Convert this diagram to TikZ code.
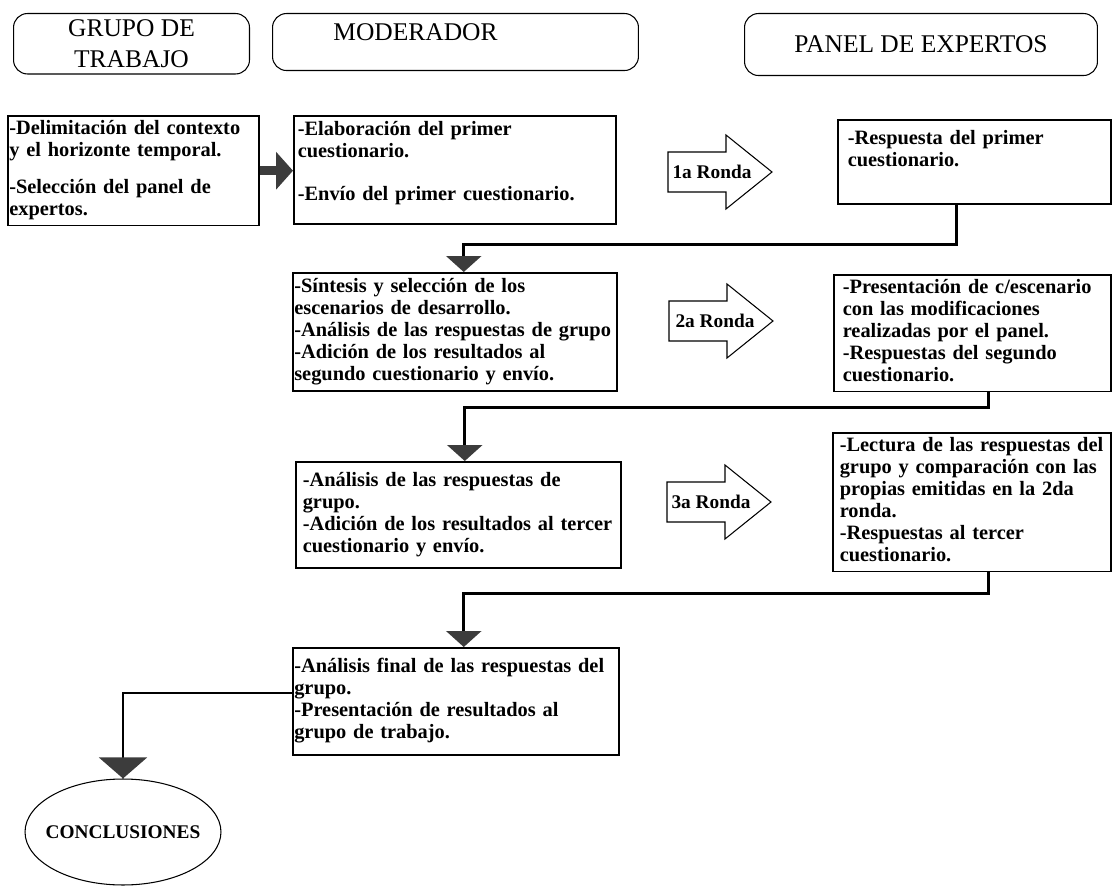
\documentclass[tikz,border=0pt]{standalone}
\usepackage{fontspec}
\setmainfont{Liberation Serif}
\usetikzlibrary{shapes.geometric, arrows.meta, positioning}

\definecolor{flecha}{HTML}{3C3C3C}

\tikzset{
  cabecera/.style={draw, rounded corners=0.28cm, line width=0.6pt, anchor=north west,
    align=center, font=\fontsize{14.5}{18}\selectfont},
  caja/.style={draw, line width=0.9pt, anchor=north west, align=left, inner ysep=2pt,
    font=\fontsize{11.6}{12.5}\selectfont\bfseries},
  ronda/.style={font=\fontsize{11}{13}\selectfont\bfseries, inner sep=0pt},
  bloque/.style={draw, line width=0.6pt, fill=white},
  conector/.style={line width=1.6pt, -{Triangle[width=0.7cm, length=0.32cm, color=flecha]}},
}

\begin{document}
\begin{tikzpicture}[x=0.02cm, y=-0.02cm]
    \useasboundingbox (0,0) rectangle (1112,888);

    % cabeceras
    \node (grupo) [cabecera, minimum width=4.72cm, minimum height=1.2cm] at (13,13) {GRUPO DE\\TRABAJO};
    \node (mod) [cabecera, minimum width=7.32cm, minimum height=1.14cm,
        label={[font=\fontsize{14.5}{17}\selectfont, xshift=-0.8cm, yshift=0.19cm]center:MODERADOR}] at (272,13) {};
    \node (panel) [cabecera, minimum width=7.06cm, minimum height=1.24cm] at (744,13) {PANEL DE EXPERTOS};

    % primera ronda
    \node (a) [caja, text width=4.96cm, inner xsep=0.03cm, minimum height=2.04cm] at (7,115)
        {\begin{tabular}{@{}l@{}}-Delimitación del contexto\\y el horizonte temporal.\\[0.3cm]-Selección del panel de\\expertos.\end{tabular}};
    \node (b) [caja, text width=6.28cm, inner xsep=0.08cm, minimum height=2.16cm] at (293,115)
        {\begin{tabular}{@{}l@{}}-Elaboración del primer\\cuestionario.\\[0.42cm]-Envío del primer cuestionario.\\[0.25cm]\end{tabular}};
    \node (c) [caja, text width=5.06cm, inner xsep=0.2cm, minimum height=1.68cm] at (837,119)
        {\begin{tabular}{@{}l@{}}-Respuesta del primer\\cuestionario.\\ \mbox{}\end{tabular}};

    % segunda ronda
    \node (d) [caja, text width=6.42cm, inner xsep=0.03cm, minimum height=2.36cm] at (292,272)
        {\begin{tabular}{@{}l@{}}-Síntesis y selección de los\\escenarios de desarrollo.\\-Análisis de las respuestas de grupo\\-Adición de los resultados al\\segundo cuestionario y envío.\end{tabular}};
    \node (e) [caja, text width=5.18cm, inner xsep=0.18cm, minimum height=2.32cm] at (833,274)
        {\begin{tabular}{@{}l@{}}-Presentación de c/escenario\\con las modificaciones\\realizadas por el panel.\\-Respuestas del segundo\\cuestionario.\end{tabular}};

    % tercera ronda
    \node (f) [caja, text width=6.22cm, inner xsep=0.14cm, minimum height=2.12cm] at (295,461)
        {\begin{tabular}{@{}l@{}}-Análisis de las respuestas de\\grupo.\\-Adición de los resultados al tercer\\cuestionario y envío.\end{tabular}};
    \node (g) [caja, text width=5.28cm, inner xsep=0.14cm, minimum height=2.72cm] at (832,432)
        {\begin{tabular}{@{}l@{}}-Lectura de las respuestas del\\grupo y comparación con las\\propias emitidas en la 2da\\ronda.\\-Respuestas al tercer\\cuestionario.\end{tabular}};

    % cierre
    \node (h) [caja, text width=6.46cm, inner xsep=0.03cm, minimum height=2.14cm] at (292,647)
        {\begin{tabular}{@{}l@{}}-Análisis final de las respuestas del\\grupo.\\-Presentación de resultados al\\grupo de trabajo.\end{tabular}};
    \node (fin) [draw, ellipse, line width=0.6pt, inner sep=0pt, minimum width=3.92cm, minimum height=2.12cm,
        font=\fontsize{11}{13}\selectfont\bfseries] at (123,832) {\makebox[0pt]{CONCLUSIONES}};

    % flechas de ronda
    \draw [bloque] (668,152) -- (726,152) -- (726,135) -- (772,172) -- (726,209) -- (726,192) -- (668,192) -- cycle;
    \node (ronda1) [ronda] at (712,172) {1a Ronda};
    \draw [bloque] (669,301) -- (727,301) -- (727,284) -- (773,321) -- (727,358) -- (727,341) -- (669,341) -- cycle;
    \node (ronda2) [ronda] at (715,321) {2a Ronda};
    \draw [bloque] (667,482) -- (725,482) -- (725,465) -- (771,502) -- (725,539) -- (725,522) -- (667,522) -- cycle;
    \node (ronda3) [ronda] at (711,502) {3a Ronda};

    % conectores
    \draw [line width=5pt, flecha, -{Triangle[width=0.74cm, length=0.34cm]}] (a.east) -- (a.east -| b.west);
    \draw [conector] ([xshift=-0.35cm]c.south) -- ++(0,40) -| ([xshift=0.18cm]d.north);
    \draw [conector] ([xshift=0.33cm]e.south) -- ++(0,15) -| ([xshift=0.13cm]f.north);
    \draw [conector] ([xshift=0.34cm]g.south) -- ++(0,21) -| ([xshift=0.16cm]h.north);
    \draw [line width=1pt, -{Triangle[width=0.96cm, length=0.42cm, color=flecha]}]
        ([yshift=0.17cm]h.west) -| (fin.north);
\end{tikzpicture}
\end{document}
